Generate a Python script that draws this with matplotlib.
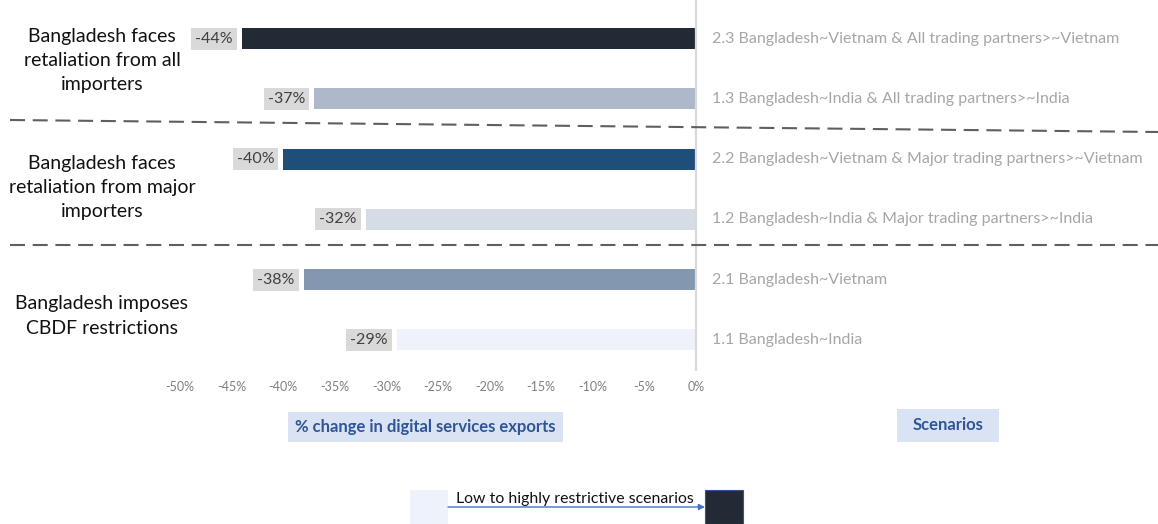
import matplotlib
matplotlib.use("Agg")
import matplotlib.pyplot as plt
from matplotlib.lines import Line2D
from matplotlib.patches import Rectangle

plt.rcParams["font.family"] = ["Lato", "DejaVu Sans"]

W, H = 1158, 524

# scenarios, top to bottom
scenarios = [
    "2.3 Bangladesh~Vietnam & All trading partners>~Vietnam",
    "1.3 Bangladesh~India & All trading partners>~India",
    "2.2 Bangladesh~Vietnam & Major trading partners>~Vietnam",
    "1.2 Bangladesh~India & Major trading partners>~India",
    "2.1 Bangladesh~Vietnam",
    "1.1 Bangladesh~India",
]
change = [-44, -37, -40, -32, -38, -29]   # % change in digital services exports
bar_colors = ["#222a35", "#adb9ca", "#1f4e79", "#d6dce5", "#8497b0", "#edf2fb"]

groups = [
    "Bangladesh faces\nretaliation from all\nimporters",
    "Bangladesh faces\nretaliation from major\nimporters",
    "Bangladesh imposes\nCBDF restrictions",
]
group_y = [61, 188, 316]   # pixel rows of the group captions

xticks = [-50, -45, -40, -35, -30, -25, -20, -15, -10, -5, 0]


def fx(x):
    return x / W


def fy(y):
    return 1 - y / H


fig = plt.figure(figsize=(W / 100, H / 100), dpi=100)
ax = fig.add_axes([fx(180), fy(370), fx(696) - fx(180), 370 / H])

pos = list(range(len(change)))
ax.barh(pos, [v / 100 for v in change], height=0.35, color=bar_colors, zorder=2)
ax.set_xlim(-0.5, 0)
ax.set_ylim(5.5, -0.64)

for s in ["top", "left", "bottom"]:
    ax.spines[s].set_visible(False)
ax.spines["right"].set_color("#d9d9d9")
ax.spines["right"].set_linewidth(1.6)
ax.set_yticks([])
ax.set_xticks([t / 100 for t in xticks])
ax.set_xticklabels([f"{t}%" for t in xticks])
ax.tick_params(axis="x", length=0, pad=8, labelsize=9, labelcolor="#7f7f7f")

for i, (v, lab) in enumerate(zip(change, scenarios)):
    ax.annotate(f"{v}%", xy=(v / 100, i), xytext=(-9, 0), textcoords="offset pixels",
                ha="right", va="center", fontsize=11.5, color="#404040",
                bbox=dict(boxstyle="square,pad=0.25", fc="#d9d9d9", ec="none"))
    ax.annotate(lab, xy=(0, i), xytext=(16, 0), textcoords="offset pixels",
                ha="left", va="center", fontsize=11.5, color="#a6a6a6",
                annotation_clip=False)

for txt, y in zip(groups, group_y):
    fig.text(fx(102), fy(y), txt, ha="center", va="center", fontsize=14,
             color="#111111", linespacing=1.5, multialignment="center")

# dashed separators between the groups
for (x0, y0), (x1, y1) in [((10, 120), (1158, 132)), ((10, 245), (1158, 245))]:
    fig.add_artist(Line2D([fx(x0), fx(x1)], [fy(y0), fy(y1)], color="#5f5f5f",
                          lw=1.5, linestyle=(0, (7.2, 3.7))))

# axis captions in shaded boxes
for (x0, y0, x1, y1), txt in [((288, 412, 563, 442), "% change in digital services exports"),
                              ((897, 409, 999, 442), "Scenarios")]:
    fig.add_artist(Rectangle((fx(x0), fy(y1)), fx(x1) - fx(x0), (y1 - y0) / H,
                             fc="#dae3f3", ec="none"))
    fig.text(fx((x0 + x1) / 2), fy((y0 + y1) / 2), txt, ha="center", va="center",
             fontsize=12, fontweight="bold", color="#2f5597")

# colour legend: light to dark
fig.add_artist(Rectangle((fx(410), fy(524)), fx(448) - fx(410), 34 / H,
                         fc=bar_colors[-1], ec="none"))
fig.add_artist(Rectangle((fx(705), fy(524)), fx(743) - fx(705), 34 / H,
                         fc=bar_colors[0], ec="#2f5597", lw=0.8))
fig.add_artist(plt.Annotation("", xy=(fx(705), fy(507)), xytext=(fx(448), fy(507)),
                              xycoords="figure fraction", textcoords="figure fraction",
                              arrowprops=dict(arrowstyle="-|>", color="#4472c4", lw=1,
                                              mutation_scale=9, shrinkA=0, shrinkB=0)))
fig.text(fx(575), fy(499), "Low to highly restrictive scenarios", ha="center",
         va="center", fontsize=11.4, color="#111111")

fig.savefig("out.png", dpi=100, facecolor="white")
